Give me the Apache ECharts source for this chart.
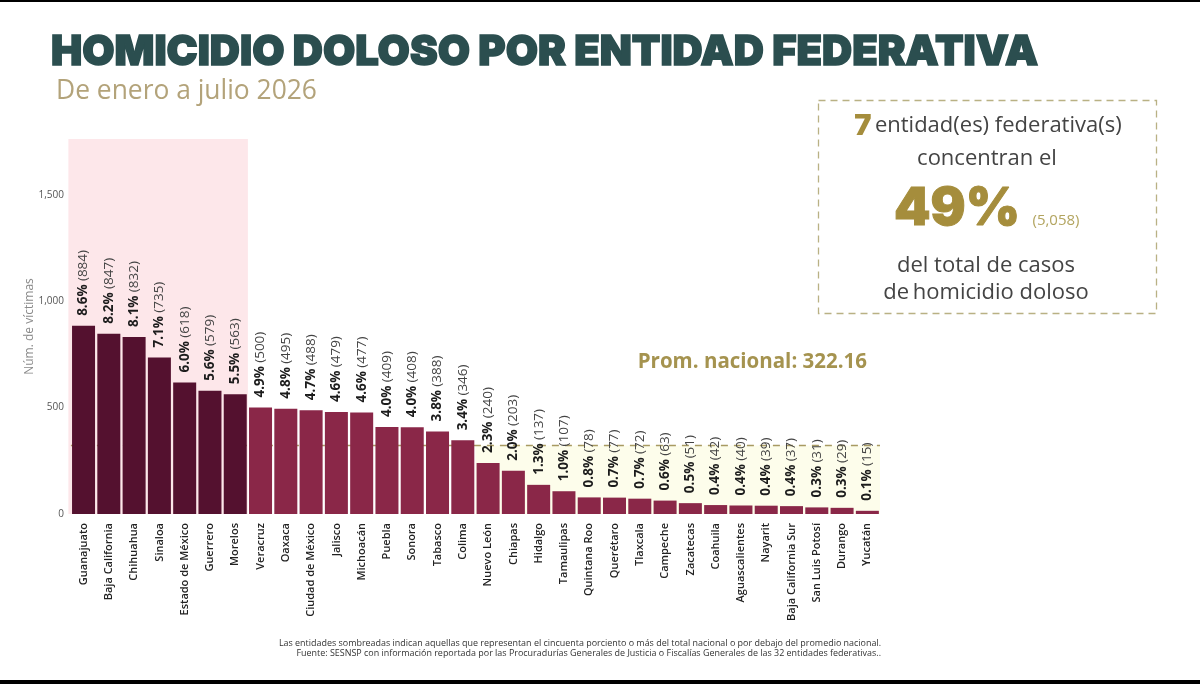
<!DOCTYPE html>
<html>
<head>
<meta charset="utf-8">
<style>html,body{margin:0;padding:0;background:#fff}#c{width:1200px;height:684px}</style>
<script src="https://cdn.jsdelivr.net/npm/echarts@6/dist/echarts.min.js"></script>
</head>
<body>
<div id="c"></div>
<script>
const categories = ["Guanajuato","Baja California","Chihuahua","Sinaloa","Estado de México","Guerrero","Morelos","Veracruz","Oaxaca","Ciudad de México","Jalisco","Michoacán","Puebla","Sonora","Tabasco","Colima","Nuevo León","Chiapas","Hidalgo","Tamaulipas","Quintana Roo","Querétaro","Tlaxcala","Campeche","Zacatecas","Coahuila","Aguascalientes","Nayarit","Baja California Sur","San Luis Potosí","Durango","Yucatán"];
const victims = [884,847,832,735,618,579,563,500,495,488,479,477,409,408,388,346,240,203,137,107,78,77,72,63,51,42,40,39,37,31,29,15];
const percents = ["8.6","8.2","8.1","7.1","6.0","5.6","5.5","4.9","4.8","4.7","4.6","4.6","4.0","4.0","3.8","3.4","2.3","2.0","1.3","1.0","0.8","0.7","0.7","0.6","0.5","0.4","0.4","0.4","0.4","0.3","0.3","0.1"];
const highlightedCount = 7;
const nationalAverage = 322.16;
const axisMax = 1762;
const shadedBands = [["Guanajuato","Morelos",axisMax,"#fde7ea"],["Nuevo León","Yucatán",nationalAverage,"#fdfdeb"]];

const FONT = '"Open Sans"';
const chart = echarts.init(document.getElementById('c'), null, {renderer:'canvas'});

function bandItem(params, api){
  const band = api.size([1,0])[0];
  const x0 = api.coord([api.value(0),0]);
  const x1 = api.coord([api.value(1),api.value(2)]);
  const pad = params.dataIndex === 0 ? 2.5 : 0;
  return {type:'rect',shape:{x:x0[0]-band/2-pad,y:x1[1],width:x1[0]-x0[0]+band+pad,height:x0[1]-x1[1]},style:{fill:shadedBands[params.dataIndex][3]}};
}
function avgLine(params, api){
  const band = api.size([1,0])[0];
  const a = api.coord([api.value(0),api.value(2)]);
  const b = api.coord([api.value(1),api.value(2)]);
  return {type:'line',shape:{x1:a[0]-band/2,y1:a[1],x2:b[0]+band/2,y2:b[1]},style:{stroke:'#a89a62',lineWidth:1.6,lineDash:[7,6]}};
}

chart.setOption({
  animation:false,
  backgroundColor:'#fff',
  grid:{left:70.9,right:320,top:139,bottom:170,containLabel:false},
  xAxis:{type:'category',data:categories,axisLine:{show:false},axisTick:{show:false},
    axisLabel:{rotate:90,interval:0,fontFamily:FONT,fontWeight:600,fontSize:11,color:'#222',margin:9}},
  yAxis:{type:'value',min:0,max:axisMax,interval:500,splitLine:{show:false},axisLine:{show:false},axisTick:{show:false},
    name:'Núm. de víctimas',nameLocation:'middle',nameRotate:90,nameGap:35,nameMoveOverlap:false,
    nameTextStyle:{fontFamily:FONT,fontSize:12,color:'#8a8a8a',padding:[0,0,0,0]},
    axisLabel:{showMaxLabel:false,margin:7,fontFamily:FONT,fontSize:10,color:'#555',
      formatter:v=>v.toLocaleString('en-US')}},
  series:[
    {type:'custom',z:1,silent:true,renderItem:bandItem,encode:{x:[0,1],y:2},
      data:shadedBands.map(b=>[b[0],b[1],b[2]])},
    {type:'custom',z:2,silent:true,renderItem:avgLine,encode:{x:[0,1],y:2},
      data:[[categories[0],categories[categories.length-1],nationalAverage]]},
    {type:'bar',z:3,barCategoryGap:'9%',
      data:victims.map((v,i)=>({value:v,itemStyle:{color:i<highlightedCount?'#54112f':'#8a2748'}})),
      label:{show:true,position:'top',rotate:90,align:'left',verticalAlign:'middle',distance:10,
        formatter:p=>`{b|${percents[p.dataIndex]}%} {n|(${victims[p.dataIndex]})}`,
        rich:{b:{fontFamily:FONT,fontWeight:700,fontSize:13.5,color:'#1c1c1c'},
              n:{fontFamily:FONT,fontSize:13.5,color:'#444'}}}}
  ],
  graphic:[
    {type:'rect',silent:true,shape:{x:0,y:0,width:1200,height:2},style:{fill:'#000'}},
    {type:'rect',silent:true,shape:{x:0,y:680,width:1200,height:4},style:{fill:'#000'}},
    {type:'text',x:51,y:52,style:{text:'HOMICIDIO DOLOSO POR ENTIDAD FEDERATIVA',font:'900 41.7px Inter',fill:'#2b4e4f',stroke:'#2b4e4f',lineWidth:1.5,textVerticalAlign:'middle'}},
    {type:'text',x:56,y:91,style:{text:'De enero a julio 2026',font:'400 26.4px "Open Sans"',fill:'#b3a37a',textVerticalAlign:'middle'}},
    {type:'rect',silent:true,shape:{x:818.5,y:100.5,width:338,height:213},style:{fill:'none',stroke:'#b9b184',lineWidth:1.3,lineDash:[7,5]}},
    {type:'text',x:988,y:126,style:{text:'{a|7} {b|entidad(es) federativa(s)}',textAlign:'center',textVerticalAlign:'middle',
      rich:{a:{font:'900 29px Inter',fill:'#a58d3c',color:'#a58d3c'},b:{font:'400 22px "Open Sans"',fill:'#444',color:'#444'}}}},
    {type:'text',x:987,y:159,style:{text:'concentran el',font:'400 22px "Open Sans"',fill:'#444',textAlign:'center',textVerticalAlign:'middle'}},
    {type:'text',x:957,y:209,style:{text:'49%',font:'900 52px Inter',fill:'#a58d3c',stroke:'#a58d3c',lineWidth:1,textAlign:'center',textVerticalAlign:'middle'}},
    {type:'text',x:1056,y:221,style:{text:'(5,058)',font:'400 15px "Open Sans"',fill:'#b3a560',textAlign:'center',textVerticalAlign:'middle'}},
    {type:'text',x:986,y:266,style:{text:'del total de casos',font:'400 22px "Open Sans"',fill:'#444',textAlign:'center',textVerticalAlign:'middle'}},
    {type:'text',x:986,y:293,style:{text:'de\u2009homicidio doloso',font:'400 22px "Open Sans"',fill:'#444',textAlign:'center',textVerticalAlign:'middle'}},
    {type:'text',x:867,y:362,style:{text:'Prom. nacional: 322.16',font:'700 20.5px "Open Sans"',fill:'#a5934f',textAlign:'right',textVerticalAlign:'middle'}},
    {type:'text',x:881,y:643,style:{text:'Las entidades sombreadas indican aquellas que representan el cincuenta porciento o más del total nacional o por debajo del promedio nacional.',font:'400 8.95px "Open Sans"',fill:'#333',textAlign:'right',textVerticalAlign:'middle'}},
    {type:'text',x:881,y:653,style:{text:'Fuente: SESNSP con información reportada por las Procuradurías Generales de Justicia o Fiscalías Generales de las 32 entidades federativas..',font:'400 8.95px "Open Sans"',fill:'#333',textAlign:'right',textVerticalAlign:'middle'}}
  ]
});
</script>
</body>
</html>
